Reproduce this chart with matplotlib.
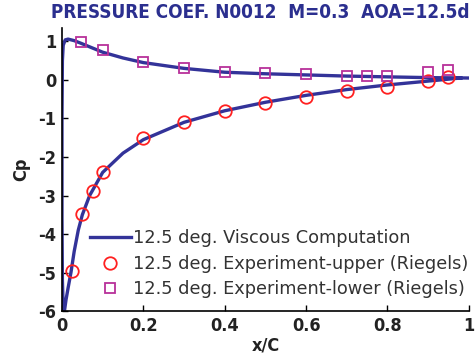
import matplotlib
matplotlib.use("Agg")
import matplotlib.pyplot as plt

plt.rcParams["axes.unicode_minus"] = False

# viscous computation (closed loop: lower surface -> LE -> upper surface)
comp_x = [1.0, 0.9, 0.8, 0.7, 0.6, 0.5, 0.4, 0.3, 0.2, 0.15, 0.1, 0.07, 0.047, 0.03,
          0.015, 0.008, 0.003, 0.001, 0.0, 0.0, 0.001, 0.003, 0.006, 0.01, 0.015, 0.022,
          0.03, 0.04, 0.05, 0.068, 0.1, 0.15, 0.2, 0.3, 0.4, 0.5, 0.6, 0.7, 0.8, 0.9, 0.98]
comp_cp = [0.05, 0.06, 0.08, 0.1, 0.13, 0.16, 0.2, 0.3, 0.45, 0.57, 0.72, 0.85, 0.95, 1.02,
           1.06, 1.04, 0.9, 0.5, -1.0, -3.6, -5.2, -5.9, -6.0, -5.7, -5.4, -5.0,
           -4.45, -3.9, -3.5, -3.0, -2.4, -1.9, -1.55, -1.1, -0.8, -0.58, -0.4, -0.25, -0.13, -0.03, 0.05]

# experiment, upper surface
up_x = [0.024, 0.05, 0.075, 0.1, 0.2, 0.3, 0.4, 0.5, 0.6, 0.7, 0.8, 0.9, 0.95]
up_cp = [-4.97, -3.48, -2.89, -2.4, -1.5, -1.08, -0.8, -0.6, -0.44, -0.28, -0.18, -0.03, 0.08]

# experiment, lower surface
lo_x = [0.047, 0.1, 0.2, 0.3, 0.4, 0.5, 0.6, 0.7, 0.75, 0.8, 0.9, 0.95]
lo_cp = [0.98, 0.77, 0.47, 0.31, 0.21, 0.18, 0.15, 0.1, 0.1, 0.1, 0.21, 0.25]

xticks = [0, 0.2, 0.4, 0.6, 0.8, 1]
xlabels = ["0", "0.2", "0.4", "0.6", "0.8", "1"]
yticks = [-6, -5, -4, -3, -2, -1, 0, 1]

bold = dict(family="DejaVu Sans", fontstretch="condensed", fontweight="bold")

fig = plt.figure(figsize=(4.75, 3.58), dpi=100)
ax = fig.add_axes([0.1305, 0.131, 0.8565, 0.791])

ax.plot(comp_x, comp_cp, color="#333399", lw=2.4,
        label="12.5 deg. Viscous Computation", zorder=2)
ax.plot(up_x, up_cp, "o", mfc="none", mec="#ff2020", mew=1.3, ms=9,
        label="12.5 deg. Experiment-upper (Riegels)", zorder=3)
ax.plot(lo_x, lo_cp, "s", mfc="none", mec="#b8309a", mew=1.3, ms=7.5,
        label="12.5 deg. Experiment-lower (Riegels)", zorder=3)

ax.set_xlim(0, 1)
ax.set_ylim(-6, 1.35)
ax.set_xticks(xticks)
ax.set_xticklabels(xlabels)
ax.set_yticks(yticks)
ax.spines["top"].set_visible(False)
ax.spines["right"].set_visible(False)
for s in ("left", "bottom"):
    ax.spines[s].set_linewidth(1.2)
ax.tick_params(direction="in", length=4, width=1, pad=4)
for lab in ax.get_xticklabels() + ax.get_yticklabels():
    lab.set(**bold)
    lab.set_fontsize(13)
    lab.set_color("#222222")

ax.set_xlabel("x/C", fontsize=13, labelpad=1, color="#222222", **bold)
ax.set_ylabel("Cp", fontsize=13, labelpad=6, color="#222222", **bold)
fig.text(0.548, 0.965, "PRESSURE COEF. N0012  M=0.3  AOA=12.5d", ha="center", va="center",
         fontsize=13.6, color="#2b2f8f", **bold)

leg = ax.legend(loc="lower right", bbox_to_anchor=(1.0, 0.045), frameon=False,
                fontsize=12.8, handlelength=2.3, handletextpad=0.15, labelspacing=0.42,
                borderaxespad=0.0, borderpad=0.0)
for t in leg.get_texts():
    t.set_color("#333333")

fig.savefig("out.png", dpi=100)
